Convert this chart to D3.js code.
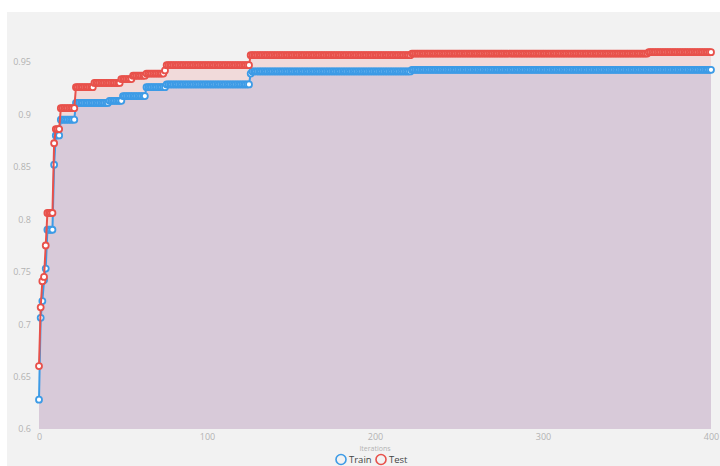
<!DOCTYPE html>
<html>
<head>
<meta charset="utf-8">
<script src="https://cdn.jsdelivr.net/npm/d3@7"></script>
<style>
  body { margin: 0; background: #fff; font-family: "Open Sans", "Noto Sans", sans-serif; }
</style>
</head>
<body>
<svg id="canvas"></svg>
<script>
// step changes: iteration where a new value starts, and that value
const trainStart = [0, 1, 2, 3, 4, 5, 9, 10, 13, 22, 42, 50, 64, 76, 126, 127, 222]
const trainValue = [0.628, 0.706, 0.722, 0.742, 0.753, 0.79, 0.852, 0.88, 0.895, 0.911, 0.913, 0.9175, 0.926, 0.9286, 0.939, 0.941, 0.9425]
const testStart = [0, 1, 2, 3, 4, 5, 9, 10, 13, 22, 33, 49, 56, 64, 75, 76, 126, 222, 363]
const testValue = [0.66, 0.716, 0.741, 0.745, 0.775, 0.806, 0.8725, 0.886, 0.906, 0.926, 0.930, 0.9337, 0.937, 0.939, 0.942, 0.947, 0.9565, 0.958, 0.9594]
const lastIteration = 400

const xTicks = [0, 100, 200, 300, 400]
const yTicks = [0.6, 0.65, 0.7, 0.75, 0.8, 0.85, 0.9, 0.95]
const yTickLabels = ['0.6', '0.65', '0.7', '0.75', '0.8', '0.85', '0.9', '0.95']

// one point per iteration, holding the value of the current step
function expand(starts, values) {
    let out = []
    let k = 0
    for (let i = 0; i <= lastIteration; i++) {
        while (k + 1 < starts.length && starts[k + 1] <= i) k++
        out.push([i, values[k]])
    }
    return out
}

const train = expand(trainStart, trainValue)
const test = expand(testStart, testValue)

let width = 720
let height = 466

const svg = d3.select('#canvas')
    .attr('width', width)
    .attr('height', height)

svg.append('rect')
    .attr('x', 7).attr('y', 12)
    .attr('width', width - 7).attr('height', height - 12)
    .attr('fill', '#f2f2f2')

const xScale = d3.scaleLinear()
    .domain([0, 400])
    .range([39, 711])

const yScale = d3.scaleLinear()
    .domain([0.6, 0.95])
    .range([429, 62])

const area = d3.area()
    .x(d => xScale(d[0]))
    .y0(yScale(0.6))
    .y1(d => yScale(d[1]))

const line = d3.line()
    .x(d => xScale(d[0]))
    .y(d => yScale(d[1]))

svg.append('path').datum(test).attr('d', area).attr('fill', '#f1dada')
svg.append('path').datum(train).attr('d', area).attr('fill', '#d8cad9')

const series = [
    { data: train, color: '#3d9be6' },
    { data: test, color: '#e8514b' }
]

series.forEach(s => {
    svg.append('path')
        .datum(s.data)
        .attr('d', line)
        .attr('fill', 'none')
        .attr('stroke', s.color)
        .attr('stroke-width', 2)

    svg.append('g')
        .selectAll('circle')
        .data(s.data)
        .enter()
        .append('circle')
        .attr('cx', d => xScale(d[0]))
        .attr('cy', d => yScale(d[1]))
        .attr('r', 3)
        .attr('fill', '#fff')
        .attr('stroke', s.color)
        .attr('stroke-width', 1.8)
})

let yAxis = d3.axisLeft(yScale)
    .tickValues(yTicks)
    .tickFormat((d, i) => yTickLabels[i])
    .tickSize(0)
    .tickPadding(8)

let xAxis = d3.axisBottom(xScale)
    .tickValues(xTicks)
    .tickSize(0)
    .tickPadding(5)

const yg = svg.append('g')
    .attr('transform', 'translate(39, 0)')
    .call(yAxis)

const xg = svg.append('g')
    .attr('transform', 'translate(0, 429)')
    .call(xAxis)

;[yg, xg].forEach(g => {
    g.select('.domain').remove()
    g.selectAll('text')
        .attr('fill', '#b3b3b3')
        .style('font-family', '"Open Sans", sans-serif')
        .style('font-size', '9px')
})

svg.append('text')
    .attr('x', xScale(200))
    .attr('y', 451)
    .attr('text-anchor', 'middle')
    .attr('fill', '#b3b3b3')
    .style('font-size', '7px')
    .text('Iterations')

const legend = [
    { name: 'Train', color: '#3d9be6', x: 341 },
    { name: 'Test', color: '#e8514b', x: 381 }
]

legend.forEach(l => {
    svg.append('circle')
        .attr('cx', l.x).attr('cy', 459.5)
        .attr('r', 5)
        .attr('fill', 'none')
        .attr('stroke', l.color)
        .attr('stroke-width', 1.6)
    svg.append('text')
        .attr('x', l.x + 8)
        .attr('y', 463)
        .attr('fill', '#444')
        .style('font-size', '9.5px')
        .text(l.name)
})
</script>
</body>
</html>
